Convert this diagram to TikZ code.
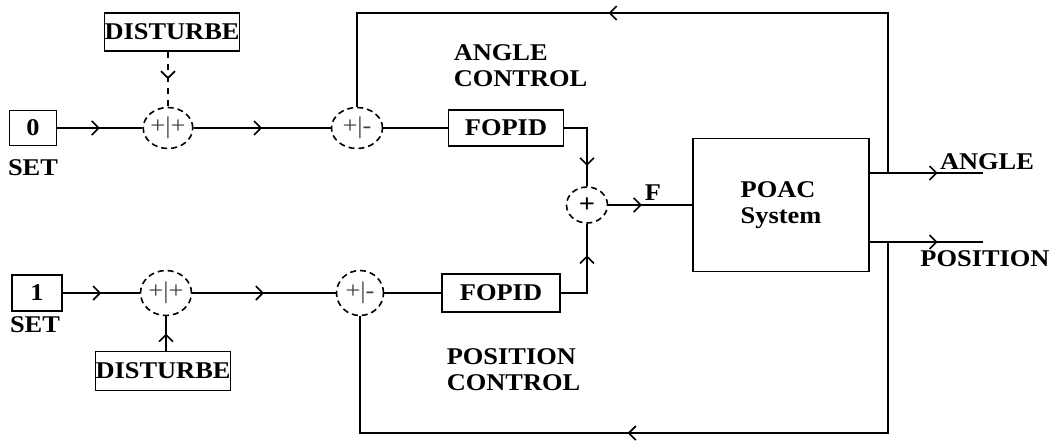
\documentclass[tikz,border=0pt]{standalone}
\usepackage{fontspec}
\setmainfont{Liberation Serif}[FakeStretch=1.1]
\usetikzlibrary{shapes.geometric,arrows.meta,decorations.markings}

\begin{document}
\begin{tikzpicture}[x=0.5pt,y=-0.5pt,line width=0.8pt,
    blk/.style={draw,inner sep=0pt,font=\bfseries\fontsize{12}{13}\selectfont},
    sum/.style={draw,densely dashed,ellipse,inner sep=0pt,text=darkgray,font=\fontsize{12}{12}\selectfont},
    lbl/.style={inner sep=0pt,align=left,font=\bfseries\fontsize{12}{13}\selectfont},
    flow/.style={postaction={decorate},decoration={markings,
        mark=at position #1 with {\arrow{Straight Barb[length=3.5pt,width=7pt]}}}},
    flow/.default=0.5]
    \useasboundingbox (0,0) rectangle (1055,440);
    % angle loop
    \node[blk,minimum width=23.5pt,minimum height=17.5pt] (set0) at (33,128) {0};
    \node[lbl] at (33,168) {SET};
    \node[blk,minimum width=66.5pt,minimum height=19pt] (dist0) at (172,32) {DISTURBE};
    \node[sum,minimum width=24.5pt,minimum height=20.5pt] (s1) at (168,128) {+|+};
    \node[sum,minimum width=25.5pt,minimum height=20.5pt] (s2) at (357,128) {+|-};
    \node[blk,minimum width=57.5pt,minimum height=18pt] (fop0) at (506,128) {FOPID};
    \node[lbl,anchor=north west] at (453,44) {ANGLE\\CONTROL};
    % position loop
    \node[blk,minimum width=25pt,minimum height=18pt] (set1) at (37,293) {1};
    \node[lbl] at (35,325) {SET};
    \node[blk,minimum width=65.5pt,minimum height=19.5pt] (dist1) at (163,371) {DISTURBE};
    \node[sum,minimum width=25.5pt,minimum height=22.5pt] (s4) at (166,293) {+|+};
    \node[sum,minimum width=23.5pt,minimum height=22.5pt] (s5) at (360,293) {+|-};
    \node[blk,minimum width=59pt,minimum height=19pt] (fop1) at (501,293) {FOPID};
    \node[lbl,anchor=north west] at (446,348) {POSITION\\CONTROL};
    % plant
    \node[sum,minimum width=20.5pt,minimum height=18pt,text=black,
        font=\bfseries\fontsize{13}{13}\selectfont] (s3) at (587,205) {+};
    \node[lbl] at (653,193) {F};
    \node[blk,align=left,minimum width=88pt,minimum height=66.5pt] (poac) at (781,205) {POAC\\System};
    \node[lbl] at (987,162) {ANGLE};
    \node[lbl] at (985,259) {POSITION};
    \coordinate (ja) at (888,173);
    \coordinate (jp) at (888,242);
    \coordinate (ao) at (983,173);
    \coordinate (po) at (983,242);
    \coordinate (top) at (888,13);
    \coordinate (bot) at (888,433);
    % connectors
    \draw[flow] (set0) -- (s1);
    \draw[flow,dashed] (dist0.south -| s1) -- (s1);
    \draw[flow] (s1) -- (s2);
    \draw (s2) -- (fop0);
    \draw[flow=0.75] (fop0) -| (s3);
    \draw[flow] (set1) -- (s4);
    \draw[flow] (dist1.north -| s4) -- (s4);
    \draw[flow] (s4) -- (s5);
    \draw (s5) -- (fop1);
    \draw[flow=0.67] (fop1) -| (s3);
    \draw[flow=0.4] (s3) -- (poac);
    \draw[flow=0.6] (poac.east |- ao) -- (ao);
    \draw[flow=0.6] (poac.east |- po) -- (po);
    % feedback
    \draw[flow=0.56] (ja) -- (top) -| (s2);
    \draw[flow=0.54] (jp) -- (bot) -| (s5);
\end{tikzpicture}
\end{document}
